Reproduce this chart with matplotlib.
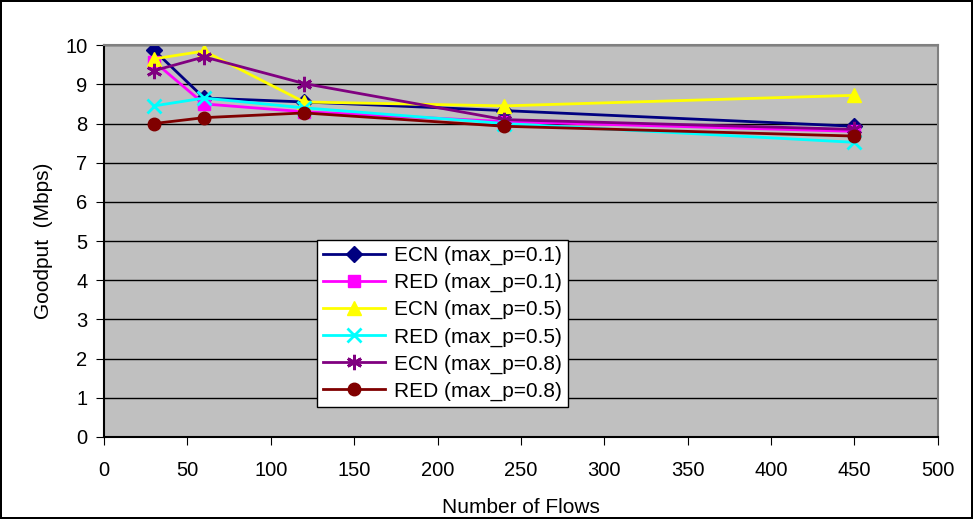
import matplotlib.pyplot as plt

plt.rcParams['font.family'] = ['Liberation Sans', 'DejaVu Sans']

flows = [30, 60, 120, 240, 450]

ecn_01 = [9.87, 8.65, 8.55, 8.33, 7.93]
red_01 = [9.58, 8.5, 8.3, 8.05, 7.8]
ecn_05 = [9.65, 9.85, 8.55, 8.45, 8.72]
red_05 = [8.45, 8.65, 8.4, 8.0, 7.52]
ecn_08 = [9.35, 9.7, 9.02, 8.1, 7.85]
red_08 = [8.0, 8.15, 8.27, 7.93, 7.68]

labels = ['ECN (max_p=0.1)', 'RED (max_p=0.1)', 'ECN (max_p=0.5)',
          'RED (max_p=0.5)', 'ECN (max_p=0.8)', 'RED (max_p=0.8)']
series = [ecn_01, red_01, ecn_05, red_05, ecn_08, red_08]
colors = ['#000080', '#FF00FF', '#FFFF00', '#00FFFF', '#800080', '#800000']
markers = ['D', 's', '^', 'x', (6, 2, 0), 'o']
msizes = [8, 8, 10, 10, 11, 9]

fig = plt.figure(figsize=(9.73, 5.19), dpi=100, edgecolor='black', linewidth=1.5)
ax = fig.add_axes([0.1069, 0.158, 0.857, 0.755])
ax.set_facecolor('#C0C0C0')

for vals, lab, c, m, ms in zip(series, labels, colors, markers, msizes):
    ax.plot(flows, vals, color=c, marker=m, markersize=ms, linewidth=2,
            markeredgewidth=2 if m in ('x', (6, 2, 0)) else 1,
            markeredgecolor=c, label=lab)

ax.set_xlim(0, 500)
ax.set_ylim(0, 10)
ax.set_xticks(range(0, 501, 50))
ax.set_yticks(range(0, 11))
ax.yaxis.grid(True, color='black', linewidth=1)
ax.set_axisbelow(True)
ax.tick_params(labelsize=14.5, direction='out', length=6, color='black', pad=6)
ax.tick_params(axis='x', pad=11)
for s in ax.spines.values():
    s.set_color('#808080')
    s.set_linewidth(1.5)
ax.spines['left'].set_color('black')
ax.spines['bottom'].set_color('black')

ax.set_xlabel('Number of Flows', fontsize=15, labelpad=13)
ax.set_ylabel('Goodput  (Mbps)', fontsize=15, labelpad=9)

leg = ax.legend(loc='lower left', bbox_to_anchor=(0.255, 0.076), fontsize=15,
                frameon=True, fancybox=False, edgecolor='black', framealpha=1,
                handlelength=3.0, labelspacing=0.38, borderpad=0.3,
                borderaxespad=0, handletextpad=0.4)
leg.get_frame().set_linewidth(1)

fig.savefig('out.png', dpi=100)
